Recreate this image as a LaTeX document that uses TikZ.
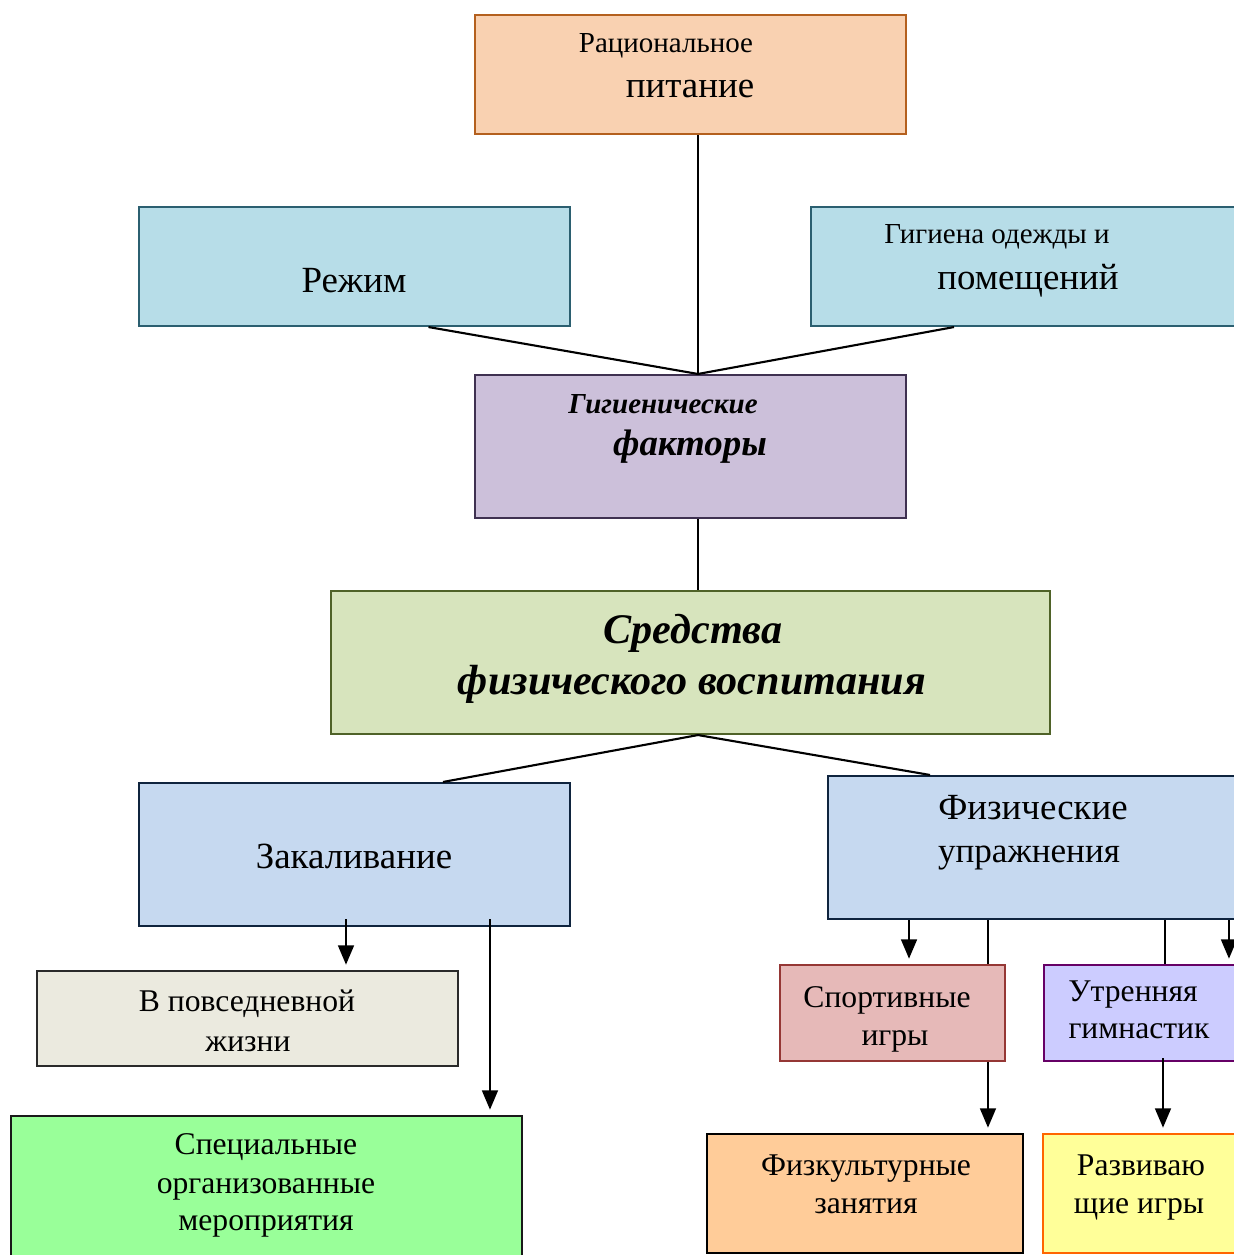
\documentclass[tikz,border=0pt]{standalone}
\usepackage{fontspec}
\setmainfont{Liberation Serif}
\usepackage{xcolor}
\usepackage{tikz}
\usetikzlibrary{arrows.meta}
\definecolor{racfill}{HTML}{F9D1B1}
\definecolor{racdraw}{HTML}{B4601E}
\definecolor{tealfill}{HTML}{B7DDE8}
\definecolor{tealdraw}{HTML}{2B5F70}
\definecolor{gffill}{HTML}{CCC0DA}
\definecolor{gfdraw}{HTML}{3F3151}
\definecolor{sredfill}{HTML}{D7E4BD}
\definecolor{sreddraw}{HTML}{4F6228}
\definecolor{bluefill}{HTML}{C6D9F0}
\definecolor{bluedraw}{HTML}{0F243E}
\definecolor{povsfill}{HTML}{EBEADF}
\definecolor{povsdraw}{HTML}{2A2A2A}
\definecolor{specfill}{HTML}{99FF99}
\definecolor{sportfill}{HTML}{E6B9B8}
\definecolor{sportdraw}{HTML}{953735}
\definecolor{utrfill}{HTML}{CCCCFF}
\definecolor{utrdraw}{HTML}{660066}
\definecolor{fkfill}{HTML}{FFCC99}
\definecolor{razvfill}{HTML}{FFFF99}
\definecolor{razvdraw}{HTML}{FF6600}
\tikzset{
	box/.style={rectangle,draw,line width=1.2pt,inner sep=0pt},
	wide box/.style={box,minimum width=8.62cm,minimum height=#1},
	small text/.style={inner sep=0pt,anchor=base,font=\fontsize{16.5}{19}\selectfont},
	mid text/.style={inner sep=0pt,anchor=base,font=\fontsize{18}{21}\selectfont},
	big text/.style={inner sep=0pt,anchor=base,font=\fontsize{21}{24}\selectfont},
	head text/.style={inner sep=0pt,anchor=base,font=\fontsize{#1}{28}\selectfont\bfseries\itshape},
	link/.style={line width=1.2pt},
	pointer/.style={line width=1.2pt,->,shorten >=3pt}
}

\begin{document}
\begin{tikzpicture}[>={Triangle[width=9pt,length=11pt]},x=0.02cm,y=-0.02cm]
\useasboundingbox (0,0) rectangle (1234,1255);
\node [wide box=2.38cm,fill=racfill,draw=racdraw] (rac) at (690.5,74.5) {};
\node [wide box=2.38cm,fill=tealfill,draw=tealdraw] (rez) at (354.5,266.5) {};
\node [box,minimum width=8.8cm,minimum height=2.38cm,fill=tealfill,draw=tealdraw] (gig) at (1031,266.5) {};
\node [wide box=2.86cm,fill=gffill,draw=gfdraw] (gf) at (690.5,446.5) {};
\node [box,minimum width=14.38cm,minimum height=2.86cm,fill=sredfill,draw=sreddraw] (sred) at (690.5,662.5) {};
\node [wide box=2.86cm,fill=bluefill,draw=bluedraw] (zak) at (354.5,854.5) {};
\node [box,minimum width=8.44cm,minimum height=2.86cm,fill=bluefill,draw=bluedraw] (fiz) at (1039,847.5) {};
\node [box,minimum width=8.42cm,minimum height=1.9cm,fill=povsfill,draw=povsdraw] (povs) at (247.5,1018.5) {};
\node [box,minimum width=10.22cm,minimum height=3.08cm,fill=specfill,draw=black!90] (spec) at (266.5,1193) {};
\node [box,minimum width=4.5cm,minimum height=1.92cm,fill=sportfill,draw=sportdraw] (sport) at (892.5,1013) {};
\node [box,minimum width=4.12cm,minimum height=1.92cm,fill=utrfill,draw=utrdraw] (utr) at (1147,1013) {};
\node [box,minimum width=6.32cm,minimum height=2.38cm,fill=fkfill,draw=black] (fk) at (865,1193.5) {};
\node [box,minimum width=4.14cm,minimum height=2.38cm,fill=razvfill,draw=razvdraw] (razv) at (1146.5,1193.5) {};

\node [small text] (rac1) at (666,52) {Рациональное};
\node [big text] (rac2) at (690,97) {питание};
\node [big text] (rez1) at (354,292) {Режим};
\node [small text] (gig1) at (997,243) {Гигиена одежды и};
\node [big text] (gig2) at (1028,289) {помещений};
\node [head text=16.5] (gf1) at (663,413) {Гигиенические};
\node [head text=21] (gf2) at (690,455) {факторы};
\node [head text=24] (sred1) at (693,643) {Средства};
\node [head text=24] (sred2) at (692,694) {физического воспитания};
\node [big text] (zak1) at (354,868) {Закаливание};
\node [big text] (fiz1) at (1033,819) {Физические};
\node [big text,font=\fontsize{20}{24}\selectfont] (fiz2) at (1029,862) {упражнения};
\node [mid text] (povs1) at (247,1011) {В повседневной};
\node [mid text] (povs2) at (248,1051) {жизни};
\node [mid text] (spec1) at (266,1154) {Специальные};
\node [mid text] (spec2) at (266,1193) {организованные};
\node [mid text] (spec3) at (266,1230) {мероприятия};
\node [mid text] (sport1) at (887,1007) {Спортивные};
\node [mid text] (sport2) at (895,1045) {игры};
\node [mid text] (utr1) at (1133,1001) {Утренняя};
\node [mid text] (utr2) at (1139,1038) {гимнастик};
\node [mid text] (fk1) at (866,1175) {Физкультурные};
\node [mid text] (fk2) at (866,1213) {занятия};
\node [mid text] (razv1) at (1141,1175) {Развиваю};
\node [mid text] (razv2) at (1139,1213) {щие игры};

\draw [link] ([xshift=0.15cm]rac.south) -- ([xshift=0.15cm]gf.north);
\draw [link] ([xshift=1.48cm]rez.south) -- ([xshift=0.15cm]gf.north);
\draw [link] ([xshift=-1.54cm]gig.south) -- ([xshift=0.15cm]gf.north);
\draw [link] ([xshift=0.15cm]gf.south) -- ([xshift=0.15cm]sred.north);
\draw [link] ([xshift=0.15cm]sred.south) -- ([xshift=1.77cm]zak.north);
\draw [link] ([xshift=0.15cm]sred.south) -- ([xshift=-2.18cm]fiz.north);
\coordinate (z1) at ([xshift=-0.17cm,yshift=0.16cm]zak.south);
\coordinate (z2) at ([xshift=2.71cm,yshift=0.16cm]zak.south);
\draw [pointer] (z1) -- (z1 |- povs.north);
\draw [pointer] (z2) -- (z2 |- spec.north);
\coordinate (f1) at ([xshift=-2.6cm]fiz.south);
\coordinate (f2) at ([xshift=-1.02cm]fiz.south);
\coordinate (f3) at ([xshift=2.52cm]fiz.south);
\coordinate (f4) at ([xshift=3.8cm]fiz.south);
\draw [pointer] (f1) -- (f1 |- sport.north);
\draw [link] (f2) -- (f2 |- sport.north);
\draw [link] (f3) -- (f3 |- utr.north);
\draw [pointer] (f4) -- (f4 |- utr.north);
\coordinate (s1) at ([xshift=1.91cm]sport.south);
\coordinate (u1) at ([xshift=0.32cm,yshift=0.08cm]utr.south);
\draw [pointer] (s1) -- (s1 |- fk.north);
\draw [pointer] (u1) -- (u1 |- razv.north);
\end{tikzpicture}
\end{document}
